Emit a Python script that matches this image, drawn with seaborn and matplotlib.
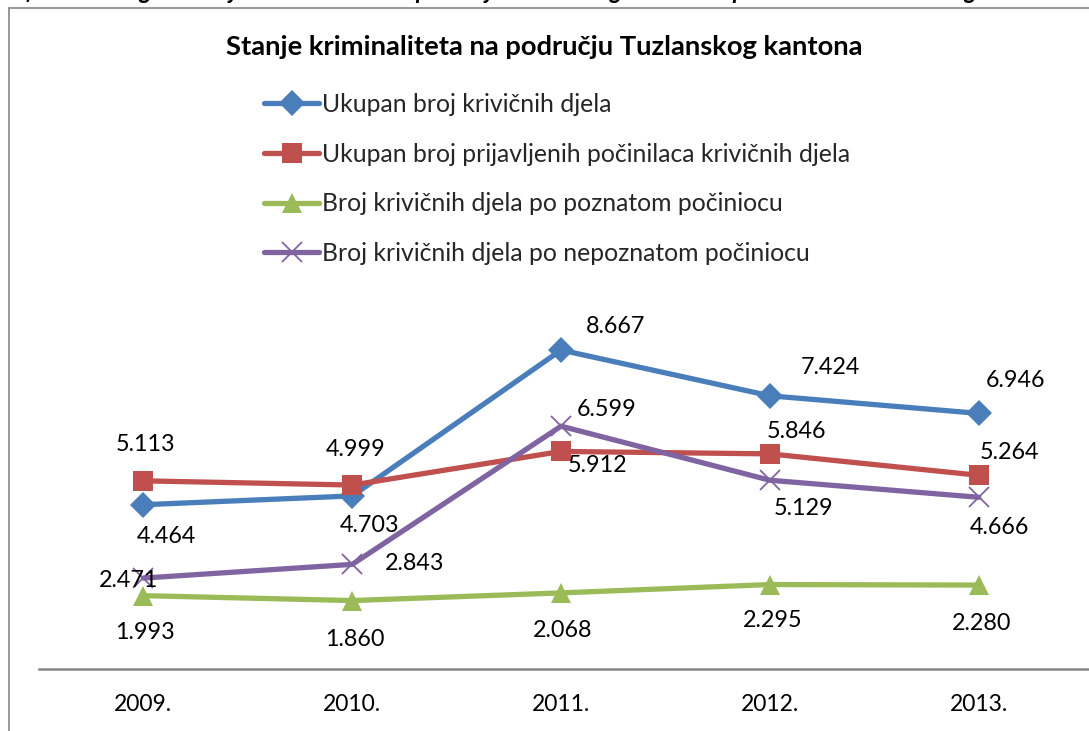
import matplotlib
matplotlib.use("Agg")
import matplotlib.pyplot as plt
from matplotlib.lines import Line2D
import pandas as pd
import seaborn as sns

# Data: crime statistics for Tuzla Canton, 2009-2013
godine = ["2009.", "2010.", "2011.", "2012.", "2013."]
serije = [
    "Ukupan broj krivičnih djela",
    "Ukupan broj prijavljenih počinilaca krivičnih djela",
    "Broj krivičnih djela po poznatom počiniocu",
    "Broj krivičnih djela po nepoznatom počiniocu",
]
ukupno_djela = [4464, 4703, 8667, 7424, 6946]
prijavljeni_pocinioci = [5113, 4999, 5912, 5846, 5264]
poznati_pocinilac = [1993, 1860, 2068, 2295, 2280]
nepoznati_pocinilac = [2471, 2843, 6599, 5129, 4666]

naslov = "Stanje kriminaliteta na području Tuzlanskog kantona"
potpis = ("Grafikon 1. Pregled stanja kriminaliteta na području Tuzlanskog "
          "kantona u periodu 2009. – 2013. godine")

vrijednosti = [ukupno_djela, prijavljeni_pocinioci, poznati_pocinilac, nepoznati_pocinilac]

# Styling
boje = ["#4A7EBB", "#C0504D", "#9BBB59", "#8064A2"]
markeri = ["D", "s", "^", "x"]
velicine_markera = [13, 14, 15, 14]
# label offsets in pixels (dx, dy; dy positive = up)
pomaci = [
    [(23, -32), (17, -30), (54, 24), (61, 28), (37, 33)],
    [(2, 36), (3, 36), (36, -14), (27, 22), (31, 23)],
    [(2, -37), (3, -39), (2, -38), (3, -36), (3, -38)],
    [(-15, -2), (62, 1), (46, 17), (34, -28), (21, -30)],
]

rows = []
for s, vals in zip(serije, vrijednosti):
    for i, v in enumerate(vals):
        rows.append({"poz": i, "vrijednost": v, "serija": s})
df = pd.DataFrame(rows)

sns.set_theme(style="white")
plt.rcParams["font.family"] = ["Lato", "DejaVu Sans"]

W, H = 1089, 731
fig = plt.figure(figsize=(W / 100, H / 100), dpi=100)
fig.patch.set_facecolor("white")

ax = fig.add_axes([39 / W, 1 - 669 / H, (W - 39) / W + 0.01, 368 / H])

for s, c, m, ms in zip(serije, boje, markeri, velicine_markera):
    sns.lineplot(
        data=df[df["serija"] == s], x="poz", y="vrijednost",
        color=c, marker=m, markersize=ms, markerfacecolor=c, markeredgecolor=c,
        markeredgewidth=1.3 if m == "x" else 0,
        linewidth=3.8, ax=ax, legend=False,
        solid_capstyle="round", solid_joinstyle="round",
    )

ax.set_xlim(-0.5, 4.58)
ax.set_ylim(0, 10000)
ax.set_xticks(range(len(godine)))
ax.set_xticklabels(godine, fontsize=16.5, color="black")
ax.tick_params(axis="x", length=0, pad=18)
ax.set_yticks([])
ax.set_xlabel("")
ax.set_ylabel("")
for side in ["top", "left", "right"]:
    ax.spines[side].set_visible(False)
ax.spines["bottom"].set_color("#868686")
ax.spines["bottom"].set_linewidth(1.8)

# data labels with dot as thousands separator
for vals, offs in zip(vrijednosti, pomaci):
    for i, (v, (dx, dy)) in enumerate(zip(vals, offs)):
        ax.annotate(f"{v:,}".replace(",", "."), (i, v), xytext=(dx, dy),
                    textcoords="offset pixels", ha="center", va="center",
                    fontsize=16.8, color="black")

# legend built from the drawn lines
handles = []
for line, c in zip(ax.lines, boje):
    handles.append(Line2D([], [], color=c, lw=3.8, marker=line.get_marker(),
                          ms=line.get_markersize(), mfc=c, mec=c,
                          mew=line.get_markeredgewidth(), solid_capstyle="round"))
fig.legend(handles, serije, loc="upper left",
           bbox_to_anchor=(264 / W, 1 - 93 / H), frameon=False,
           fontsize=17.8, handlelength=2.23, handletextpad=0.12,
           labelspacing=1.08, borderpad=0, borderaxespad=0)

fig.text(0.5, 1 - 47 / H, naslov, ha="center", va="center",
         fontsize=19.7, fontweight="bold", color="black")

# caption above the chart frame, mostly outside the canvas
fig.text(-0.01, 1 + 1 / H, potpis, ha="left", va="baseline",
         fontsize=17, fontweight="bold", fontstyle="italic", color="black")

# chart frame
fig.add_artist(Line2D([9 / W, 9 / W], [0, 1 - 8 / H], transform=fig.transFigure,
                      color="#868686", lw=1.2))
fig.add_artist(Line2D([9 / W, 1], [1 - 8 / H, 1 - 8 / H], transform=fig.transFigure,
                      color="#868686", lw=1.2))

fig.savefig("out.png", dpi=100, facecolor="white")
